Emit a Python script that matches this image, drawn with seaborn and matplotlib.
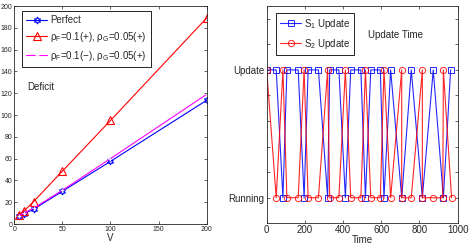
import matplotlib
matplotlib.use('Agg')
import matplotlib.pyplot as plt
import seaborn as sns

# Deficit vs V
v = [5, 10, 20, 50, 100, 200]
deficit_perfect = [7.5, 9.5, 13.5, 30, 57.5, 113.5]
deficit_pf_plus = [8, 12, 20.5, 48.5, 95, 189]
deficit_pf_minus = [7.5, 10, 14.5, 31, 60, 119]

# Update time (1 = Update, 0 = Running)
s1_time = [0, 50, 85, 106, 165, 196, 217, 271, 319, 330, 378, 412, 440, 493,
           517, 545, 595, 614, 649, 707, 757, 815, 872, 925, 963]
s1_state = [1, 1, 0, 1, 1, 0, 1, 1, 0, 1, 1, 0, 1, 1,
            0, 1, 1, 0, 1, 0, 1, 0, 1, 0, 1]
s2_time = [0, 50, 85, 106, 165, 196, 217, 271, 319, 330, 378, 412, 440, 493,
           517, 545, 595, 614, 649, 707, 707, 757, 815, 815, 872, 922, 925, 968]
s2_state = [1, 0, 1, 0, 0, 1, 0, 0, 1, 0, 0, 1, 0, 0,
            1, 0, 0, 1, 0, 1, 0, 0, 1, 0, 0, 0, 1, 0]
state_labels = {0: 'Running', 1: 'Update'}

sns.set_style('ticks')
plt.rcParams['font.family'] = ['Liberation Sans', 'DejaVu Sans']
plt.rcParams['mathtext.fontset'] = 'custom'
plt.rcParams['mathtext.rm'] = 'Liberation Sans'
plt.rcParams['mathtext.it'] = 'Liberation Sans'
plt.rcParams['xtick.direction'] = 'in'
plt.rcParams['ytick.direction'] = 'in'

fig = plt.figure(figsize=(4.7, 2.49), dpi=100)
ax1 = fig.add_axes([0.0304, 0.1004, 0.4094, 0.8755])
ax2 = fig.add_axes([0.5674, 0.1032, 0.4064, 0.8727])

# left panel
sns.lineplot(x=v, y=deficit_perfect, ax=ax1, color='#0000ff', lw=0.8,
             marker=(6, 1, 0), ms=5, mfc='none', mec='#0000ff', mew=0.8,
             estimator=None, sort=False, label='Perfect')
sns.lineplot(x=v, y=deficit_pf_plus, ax=ax1, color='#ff0000', lw=0.8,
             marker='^', ms=5.5, mfc='none', mec='#ff0000', mew=0.8,
             estimator=None, sort=False,
             label=r'ρ$_\mathrm{F}$=0.1(+), ρ$_\mathrm{G}$=0.05(+)')
sns.lineplot(x=v, y=deficit_pf_minus, ax=ax1, color='#ff00ff', lw=0.8,
             marker='+', ms=3, mew=0.6,
             estimator=None, sort=False,
             label=r'ρ$_\mathrm{F}$=0.1(−), ρ$_\mathrm{G}$=0.05(+)')
ax1.set_xlim(0, 200)
ax1.set_ylim(0, 200)
ax1.set_xticks([0, 50, 100, 150, 200])
ax1.set_yticks(range(0, 201, 20))
ax1.tick_params(labelsize=5, length=2.5, width=0.5, top=True, right=True, pad=1.5)
ax1.set_xlabel('V', fontsize=7, labelpad=0)
ax1.set_ylabel('')
ax1.text(13, 126, 'Deficit', fontsize=7, va='center')
leg1 = ax1.legend(loc='upper left', bbox_to_anchor=(0.04, 0.977), borderaxespad=0,
                  fontsize=7, handlelength=2.2, fancybox=False, framealpha=1,
                  edgecolor='black', borderpad=0.4, labelspacing=0.5, handletextpad=0.3)
leg1.get_frame().set_linewidth(0.6)

# right panel
sns.lineplot(x=s1_time, y=s1_state, ax=ax2, color='#0000ff', lw=0.8, alpha=0.85,
             marker='s', ms=4, mfc='none', mec='#0000ff', mew=0.7,
             estimator=None, sort=False, label='S$_1$ Update')
sns.lineplot(x=s2_time, y=s2_state, ax=ax2, color='#ff0000', lw=0.8, alpha=0.85,
             marker='o', ms=4.5, mfc='none', mec='#ff0000', mew=0.7,
             estimator=None, sort=False, label='S$_2$ Update')
ax2.set_xlim(0, 1000)
ax2.set_ylim(-0.2, 1.5)
ax2.set_xticks(range(0, 1001, 200))
yt = [0, 0.2, 0.4, 0.6, 0.8, 1.0, 1.2, 1.4]
ax2.set_yticks(yt)
ax2.set_yticklabels([state_labels[round(t)] if t in (0, 1.0) else '' for t in yt])
ax2.tick_params(labelsize=7, length=2.5, width=0.5, top=True, right=True, pad=1.5)
ax2.set_xlabel('Time', fontsize=7, labelpad=0)
ax2.set_ylabel('')
ax2.text(677, 1.27, 'Update Time', fontsize=7, ha='center', va='center')
leg2 = ax2.legend(loc='upper left', bbox_to_anchor=(0.049, 0.968), borderaxespad=0,
                  fontsize=7, handlelength=2.2, fancybox=False, framealpha=1,
                  edgecolor='black', borderpad=0.4, labelspacing=0.6, handletextpad=0.3)
leg2.get_frame().set_linewidth(0.6)

for ax in (ax1, ax2):
    for s in ax.spines.values():
        s.set_linewidth(0.6)
        s.set_visible(True)

fig.savefig('out.png', dpi=100)
